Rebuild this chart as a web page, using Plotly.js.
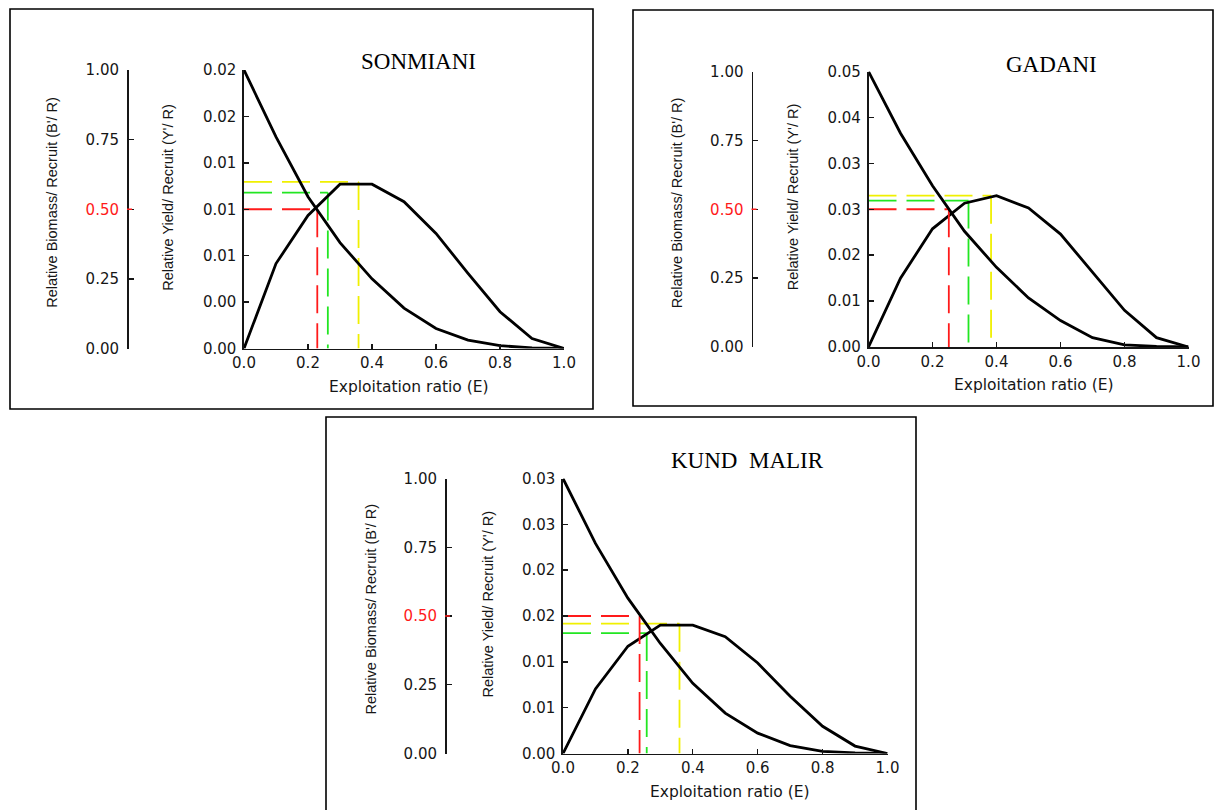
<!DOCTYPE html>
<html>
<head>
<meta charset="utf-8">
<script src="https://cdn.plot.ly/plotly-3.0.1.min.js"></script>
<style>
  html, body { margin: 0; padding: 0; background: #ffffff; }
  #chart { width: 1215px; height: 810px; }
</style>
</head>
<body>
<div id="chart"></div>
<script>
// Exploitation ratio (E) grid shared by the three sites
const exploitation = [0.0, 0.1, 0.2, 0.3, 0.4, 0.5, 0.6, 0.7, 0.8, 0.9, 1.0];
const exploitationTicks = [0.0, 0.2, 0.4, 0.6, 0.8, 1.0];
const exploitationTickText = ['0.0', '0.2', '0.4', '0.6', '0.8', '1.0'];

// Relative biomass per recruit axis (same for every site)
const biomassTicks = [0.0, 0.25, 0.5, 0.75, 1.0];
const biomassTickText = ['0.00', '0.25', '<span style="color:#ff1a1a">0.50</span>', '0.75', '1.00'];

// SONMIANI
const sonmianiBiomass = [1.0, 0.76, 0.545, 0.38, 0.25, 0.145, 0.072, 0.03, 0.01, 0.002, 0.0];
const sonmianiYield = [0.0, 0.0061, 0.00955, 0.0118, 0.0118, 0.01054, 0.00826, 0.0054, 0.00264, 0.00072, 0.0];
const sonmianiYieldMax = 0.02;
const sonmianiYieldTickText = ['0.00', '0.00', '0.01', '0.01', '0.01', '0.02', '0.02'];
const sonmianiE50 = 0.229;          // biomass reduced to 50 %
const sonmianiE10 = 0.262;          // marginal yield at 10 %
const sonmianiEmax = 0.358;         // maximum yield
const sonmianiYieldE10 = 0.0112;
const sonmianiYieldEmax = 0.01196;

// GADANI
const gadaniBiomass = [1.0, 0.776, 0.585, 0.42, 0.289, 0.178, 0.096, 0.034, 0.008, 0.002, 0.0];
const gadaniYield = [0.0, 0.0125, 0.02145, 0.0261, 0.02745, 0.02525, 0.0205, 0.01365, 0.00665, 0.0017, 0.0];
const gadaniYieldMax = 0.05;
const gadaniYieldTickText = ['0.00', '0.01', '0.02', '0.03', '0.03', '0.04', '0.05'];
const gadaniE50 = 0.251;
const gadaniE10 = 0.3125;
const gadaniEmax = 0.383;
const gadaniYieldE10 = 0.02657;
const gadaniYieldEmax = 0.02747;

// KUND MALIR
const kundMalirBiomass = [1.0, 0.764, 0.565, 0.40, 0.255, 0.147, 0.074, 0.029, 0.008, 0.002, 0.0];
const kundMalirYield = [0.0, 0.00705, 0.0117, 0.0140, 0.0140, 0.01275, 0.00987, 0.00624, 0.00297, 0.00081, 0.0];
const kundMalirYieldMax = 0.03;
const kundMalirYieldTickText = ['0.00', '0.01', '0.01', '0.02', '0.02', '0.03', '0.03'];
const kundMalirE50 = 0.236;
const kundMalirE10 = 0.258;
const kundMalirEmax = 0.359;
const kundMalirYieldE10 = 0.01314;
const kundMalirYieldEmax = 0.01416;

const sites = [
  { name: 'SONMIANI', biomass: sonmianiBiomass, yld: sonmianiYield, yMax: sonmianiYieldMax,
    tickText: sonmianiYieldTickText, e50: sonmianiE50, e10: sonmianiE10, emax: sonmianiEmax,
    y10: sonmianiYieldE10, ymx: sonmianiYieldEmax },
  { name: 'GADANI', biomass: gadaniBiomass, yld: gadaniYield, yMax: gadaniYieldMax,
    tickText: gadaniYieldTickText, e50: gadaniE50, e10: gadaniE10, emax: gadaniEmax,
    y10: gadaniYieldE10, ymx: gadaniYieldEmax },
  { name: 'KUND&nbsp;&nbsp;MALIR', biomass: kundMalirBiomass, yld: kundMalirYield, yMax: kundMalirYieldMax,
    tickText: kundMalirYieldTickText, e50: kundMalirE50, e10: kundMalirE10, emax: kundMalirEmax,
    y10: kundMalirYieldE10, ymx: kundMalirYieldEmax }
];

// Page geometry (pixels) for each framed panel
const W = 1215, H = 810;
const fx = px => px / W;
const fy = py => 1 - py / H;
const panels = [
  { x0: 244, x1: 564, top: 70, bot: 348.5, bAxis: 127, box: [10, 9, 593, 409], title: [418, 61.5] },
  { x0: 868.5, x1: 1188.5, top: 71.5, bot: 347, bAxis: 751.5, box: [633, 10, 1213, 406], title: [1051, 64] },
  { x0: 563, x1: 887.5, top: 478.5, bot: 753.5, bAxis: 445, box: [326, 417, 916, 820], title: [748, 461] }
];

const INK = '#161616';
const RED = '#ff1a1a', GREEN = '#22e622', YELLOW = '#f0f000';
const tickFont = { family: 'DejaVu Sans, Arial, sans-serif', size: 15, color: INK };
const labelFont = { family: 'Liberation Sans, Arial, sans-serif', size: 14.5, color: INK };
const dashPattern = '28px,10px';

const traces = [];
const layout = {
  width: W, height: H,
  margin: { l: 0, r: 0, t: 0, b: 0 },
  paper_bgcolor: '#ffffff', plot_bgcolor: 'rgba(0,0,0,0)',
  showlegend: false,
  shapes: [], annotations: []
};

sites.forEach((s, i) => {
  const p = panels[i];
  const n = i + 1;
  const xName = n === 1 ? 'x' : 'x' + n;
  const yYield = 2 * n - 1 === 1 ? 'y' : 'y' + (2 * n - 1);
  const yBio = 'y' + (2 * n);
  const xKey = n === 1 ? 'xaxis' : 'xaxis' + n;
  const yYieldKey = 2 * n - 1 === 1 ? 'yaxis' : 'yaxis' + (2 * n - 1);
  const yBioKey = 'yaxis' + (2 * n);

  const yieldTickVals = s.tickText.map((_, k) => s.yMax * k / (s.tickText.length - 1));

  layout[xKey] = {
    domain: [fx(p.x0), fx(p.x1)], anchor: yYield, range: [0, 1],
    tickmode: 'array', tickvals: exploitationTicks, ticktext: exploitationTickText,
    ticks: 'inside', ticklen: 5, tickwidth: 1.4, tickcolor: INK, ticklabelstandoff: 0,
    showline: true, linecolor: INK, linewidth: 1.7,
    showgrid: false, zeroline: false, tickfont: tickFont, fixedrange: true
  };
  layout[yYieldKey] = {
    domain: [fy(p.bot), fy(p.top)], anchor: xName, range: [0, s.yMax],
    tickmode: 'array', tickvals: yieldTickVals, ticktext: s.tickText,
    ticks: 'inside', ticklen: 5, tickwidth: 1.4, tickcolor: INK, ticklabelstandoff: 3,
    showline: true, linecolor: INK, linewidth: 1.7,
    showgrid: false, zeroline: false, tickfont: tickFont, fixedrange: true
  };
  layout[yBioKey] = {
    overlaying: yYield, anchor: 'free', position: fx(p.bAxis), side: 'left', range: [0, 1],
    tickmode: 'array', tickvals: biomassTicks, ticktext: biomassTickText,
    ticks: 'inside', ticklen: 5, tickwidth: 1.4, tickcolor: INK, ticklabelstandoff: 5,
    showline: true, linecolor: INK, linewidth: 1.7,
    showgrid: false, zeroline: false, tickfont: tickFont, fixedrange: true
  };

  // reference lines: E50 on the biomass scale, E10 and Emax on the yield scale
  const dashed = (xs, ys, yref, color) => traces.push({
    type: 'scatter', mode: 'lines', x: xs, y: ys, xaxis: xName, yaxis: yref,
    line: { color: color, width: 1.8, dash: dashPattern }, hoverinfo: 'skip'
  });
  dashed([0, s.emax], [s.ymx, s.ymx], yYield, YELLOW);
  dashed([s.emax, s.emax], [s.ymx, 0], yYield, YELLOW);
  dashed([0, s.e10], [s.y10, s.y10], yYield, GREEN);
  dashed([s.e10, s.e10], [s.y10, 0], yYield, GREEN);
  dashed([0, s.e50], [0.5, 0.5], yBio, RED);
  dashed([s.e50, s.e50], [0.5, 0], yBio, RED);

  // relative biomass per recruit and relative yield per recruit curves
  traces.push({
    type: 'scatter', mode: 'lines', x: exploitation, y: s.biomass,
    xaxis: xName, yaxis: yBio, line: { color: '#000000', width: 2.8 }
  });
  traces.push({
    type: 'scatter', mode: 'lines', x: exploitation, y: s.yld,
    xaxis: xName, yaxis: yYield, line: { color: '#000000', width: 2.8 }
  });

  // panel frame
  layout.shapes.push({
    type: 'rect', xref: 'paper', yref: 'paper',
    x0: fx(p.box[0]), x1: fx(p.box[2]), y0: fy(p.box[3]), y1: fy(p.box[1]),
    line: { color: '#000000', width: 1.6 }, fillcolor: 'rgba(0,0,0,0)'
  });
  // red tick mark for the 0.50 biomass level
  layout.shapes.push({
    type: 'line', xref: 'paper', yref: yBio,
    x0: fx(p.bAxis), x1: fx(p.bAxis + 5), y0: 0.5, y1: 0.5,
    line: { color: RED, width: 1.5 }
  });

  const mid = (p.top + p.bot) / 2;
  layout.annotations.push(
    { text: s.name, xref: 'paper', yref: 'paper', x: fx(p.title[0]), y: fy(p.title[1]),
      xanchor: 'center', yanchor: 'middle', showarrow: false,
      font: { family: 'Liberation Serif, Times New Roman, serif', size: 23, color: '#000000' } },
    { text: "Relative Biomass/ Recruit (B'/ R)", xref: 'paper', yref: 'paper',
      x: fx(p.bAxis - 75), y: fy(mid - 6.5), textangle: -90,
      xanchor: 'center', yanchor: 'middle', showarrow: false, font: labelFont },
    { text: "Relative Yield/ Recruit (Y'/ R)", xref: 'paper', yref: 'paper',
      x: fx(p.x0 - 76), y: fy(mid - 12.5), textangle: -90,
      xanchor: 'center', yanchor: 'middle', showarrow: false, font: labelFont },
    { text: 'Exploitation ratio (E)', xref: 'paper', yref: 'paper',
      x: fx((p.x0 + p.x1) / 2 + 5), y: fy(p.bot + 38),
      xanchor: 'center', yanchor: 'middle', showarrow: false,
      font: { family: 'DejaVu Sans, Arial, sans-serif', size: 15.5, color: INK } }
  );
});

Plotly.newPlot('chart', traces, layout, { staticPlot: true, displayModeBar: false });
</script>
</body>
</html>
